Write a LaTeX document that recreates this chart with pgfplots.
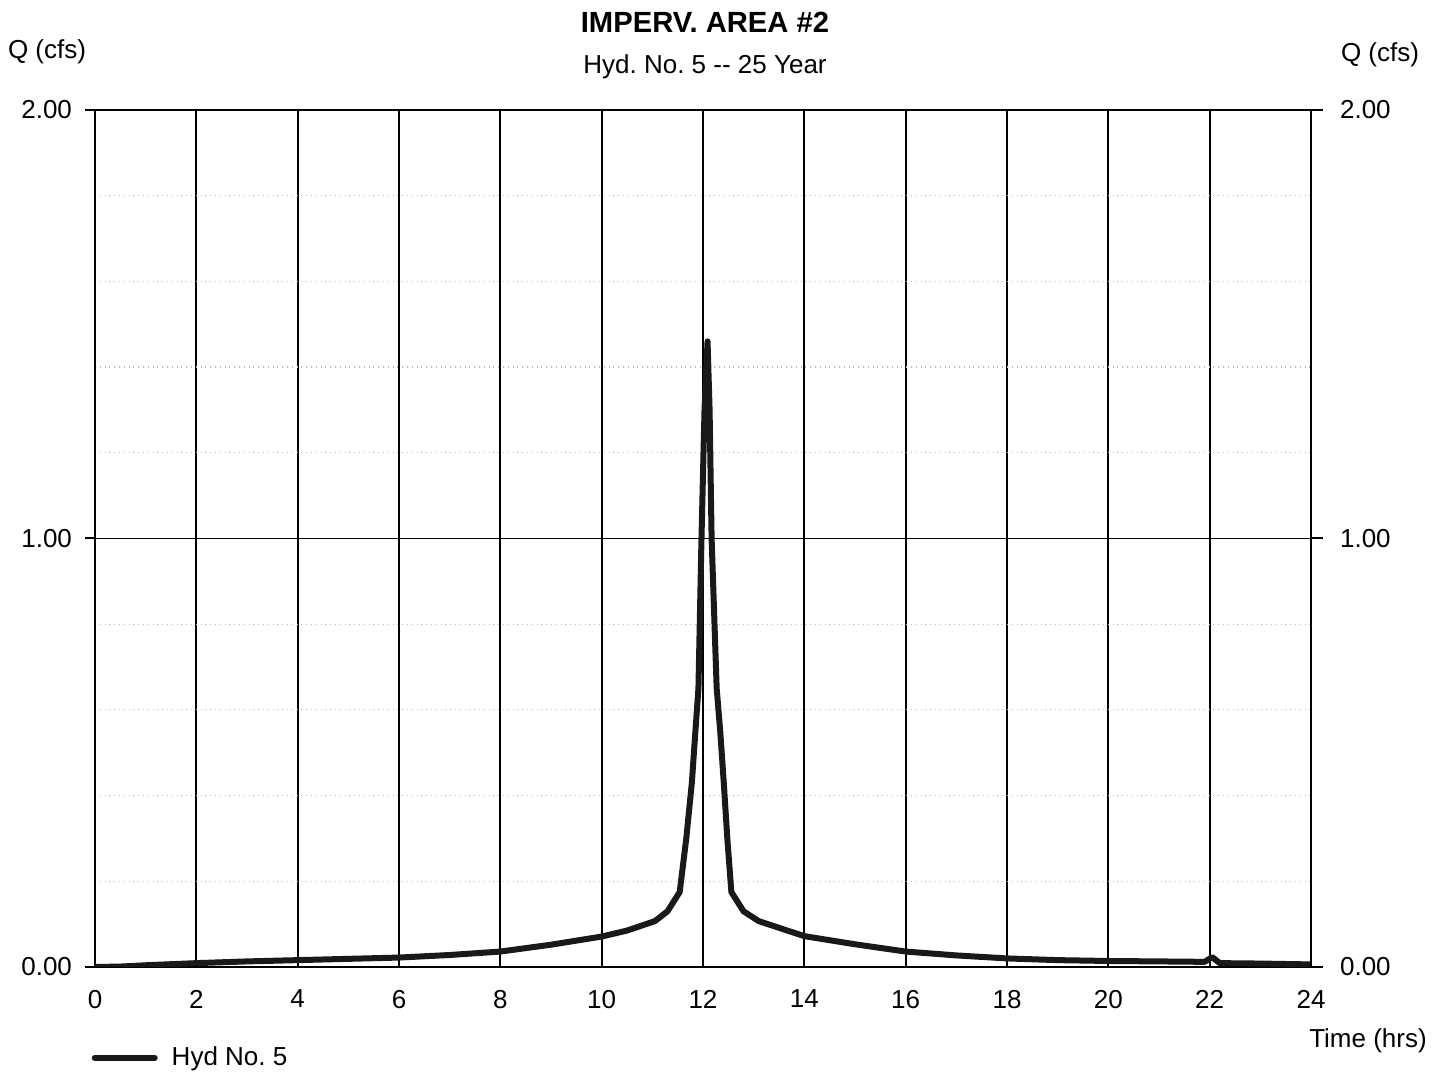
\documentclass[border=0pt]{standalone}
\usepackage{fontspec}
\setmainfont{Liberation Sans}
\usepackage{pgfplots}
\pgfplotsset{compat=1.18}
\frenchspacing
\newcommand\basefont{\fontsize{13pt}{15pt}\selectfont}

\begin{document}
\begin{tikzpicture}
\useasboundingbox (-47.5pt,-53.5pt) rectangle (673pt,483.5pt);

\begin{axis}[
  at={(0pt,0pt)}, anchor=south west,
  scale only axis,
  width=608pt, height=428.5pt,
  xmin=0, xmax=24, ymin=0, ymax=2,
  xtick={0,2,...,24},
  ytick={0,1,2},
  minor y tick num=4,
  grid=both,
  major grid style={black, line width=0.9pt},
  minor grid style={gray!55, dotted, line width=0.6pt},
  axis line style={black, line width=1pt},
  tick align=outside,
  xtick style={draw=none},
  ytick style={black, line width=1pt},
  major tick length=5pt,
  minor tick length=0pt,
  /pgf/number format/assume math mode=true,
  yticklabel={\pgfmathprintnumber[fixed, fixed zerofill, precision=2]{\tick}},
  ticklabel style={font=\basefont},
  yticklabel style={xshift=-3pt},
  xticklabel style={yshift=-3pt},
  legend style={at={(axis description cs:-0.003,-0.106)}, anchor=west,
    draw=none, fill=none, inner sep=0pt, font=\basefont},
  legend cell align=left,
  legend image code/.code={\draw[#1, line cap=round] (0pt,0pt) -- (30pt,0pt); \path (35pt,0pt);},
]
\addplot[black!90, line width=3pt, line join=round] coordinates {
  (0,0) (0.5,0.001) (1,0.004) (2,0.009) (3,0.013) (4,0.016) (5,0.019)
  (6,0.022) (7,0.028) (8,0.036) (9,0.052) (10,0.071) (10.5,0.085)
  (11.05,0.107) (11.3,0.13) (11.54,0.175) (11.67,0.30) (11.78,0.43)
  (11.85,0.55) (11.91,0.65) (11.97,1.00) (12.03,1.30) (12.09,1.46)
  (12.13,1.30) (12.17,1.00) (12.27,0.65) (12.34,0.55) (12.41,0.43)
  (12.48,0.30) (12.56,0.175) (12.8,0.13) (13.1,0.107) (14,0.072)
  (15,0.053) (16,0.036) (17,0.027) (18,0.020) (19,0.016) (20,0.014)
  (21,0.013) (21.9,0.012) (22.05,0.023) (22.2,0.009) (23,0.008) (24,0.006)
};
\addlegendentry{Hyd No. 5}
\end{axis}

% right-hand discharge scale
\begin{axis}[
  at={(0pt,0pt)}, anchor=south west,
  scale only axis,
  width=608pt, height=428.5pt,
  xmin=0, xmax=24, ymin=0, ymax=2,
  axis x line=none,
  axis y line*=right,
  axis line style={black, line width=1pt},
  ytick={0,1,2},
  tick align=outside,
  major tick length=6pt,
  ytick style={black, line width=1pt},
  /pgf/number format/assume math mode=true,
  yticklabel={\pgfmathprintnumber[fixed, fixed zerofill, precision=2]{\tick}},
  yticklabel style={font=\basefont, xshift=5pt},
]
\end{axis}

\node[font=\bfseries\fontsize{14.6pt}{17pt}\selectfont] at (305pt,472.5pt) {IMPERV. AREA \#2};
\node[font=\basefont] at (305pt,450pt) {Hyd. No. 5 -{}- 25 Year};
\node[font=\basefont] at (-24pt,457.5pt) {Q (cfs)};
\node[font=\basefont] at (642.5pt,456pt) {Q (cfs)};
\node[font=\basefont] at (636.5pt,-37pt) {Time (hrs)};
\end{tikzpicture}
\end{document}
